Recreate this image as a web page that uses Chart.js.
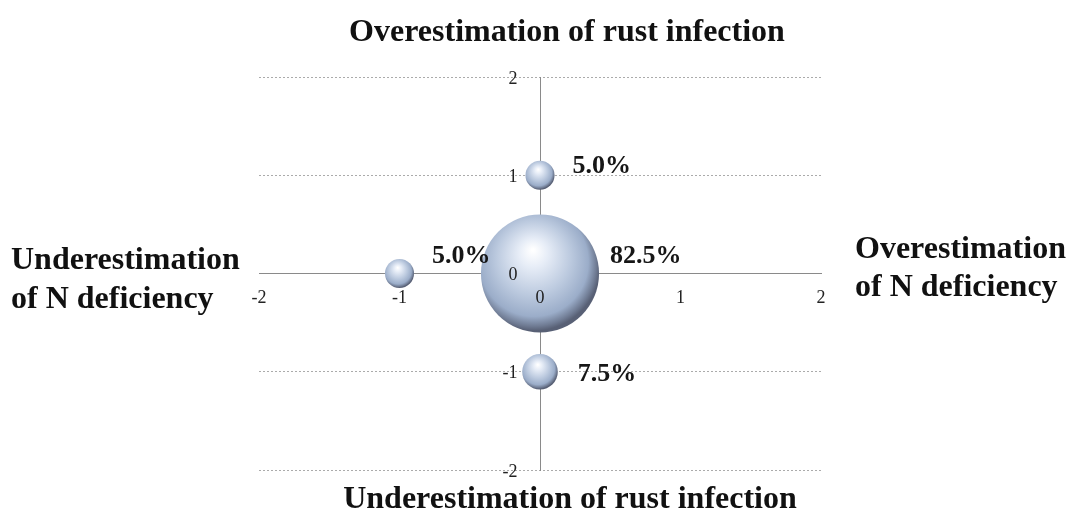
<!DOCTYPE html>
<html>
<head>
<meta charset="utf-8">
<script src="https://cdn.jsdelivr.net/npm/chart.js@4/dist/chart.umd.min.js"></script>
<style>
  html, body { margin: 0; padding: 0; background: #fff; overflow: hidden; }
  #wrap { position: relative; width: 1071px; height: 518px; overflow: hidden; }
  #chart { position: absolute; left: 0; top: 0; }
  .ttl { position: absolute; font-family: "Liberation Serif", "Times New Roman", serif; font-weight: bold;
         font-size: 32px; line-height: 36px; color: #111; white-space: nowrap; }
</style>
</head>
<body>
<div id="wrap">
  <!-- canvas is a bit taller than the window: the bubble overflow padding needs 60px at the bottom -->
  <canvas id="chart" width="1071" height="530"></canvas>
  <div class="ttl" style="left:0;width:1134px;text-align:center;top:12px;">Overestimation of rust infection</div>
  <div class="ttl" style="left:0;width:1140px;text-align:center;top:479px;">Underestimation of rust infection</div>
  <div class="ttl" style="left:11px;top:240px;">Underestimation</div>
  <div class="ttl" style="left:11px;top:279px;">of N deficiency</div>
  <div class="ttl" style="left:855px;top:229px;">Overestimation</div>
  <div class="ttl" style="left:855px;top:267px;">of N deficiency</div>
</div>
<script>
// bubble positions (x = N deficiency estimate, y = rust infection estimate)
var xValues = [0, -1, 0, 0];
var yValues = [1, 0, 0, -1];
// share of cases, in percent
var shares = [5.0, 5.0, 82.5, 7.5];
var tickValues = [-2, -1, 0, 1, 2];

var serif = '"Liberation Serif", "Times New Roman", serif';

// label nudges relative to the bubble's right edge (layout only)
var labelDx = [18, 18, 11, 20];
var labelDy = [-9, -17, -17, 3];

var points = [];
for (var i = 0; i < shares.length; i++) {
  points.push({ x: xValues[i], y: yValues[i], r: 6.5 * Math.sqrt(shares[i]), share: shares[i] });
}

function sphereFill(ctx) {
  var chart = ctx.chart;
  var raw = ctx.raw;
  if (!raw || !chart.scales || !chart.scales.x || !chart.scales.y) return '#b4c3de';
  var cx = chart.scales.x.getPixelForValue(raw.x);
  var cy = chart.scales.y.getPixelForValue(raw.y);
  var r = raw.r;
  if (!isFinite(cx) || !isFinite(cy) || !isFinite(r)) return '#b4c3de';
  var g = chart.ctx.createRadialGradient(cx - 0.12 * r, cy - 0.4 * r, 0.02 * r, cx - 0.1 * r, cy - 0.15 * r, 1.12 * r);
  g.addColorStop(0, '#ffffff');
  g.addColorStop(0.2, '#e7edf7');
  g.addColorStop(0.55, '#bccadf');
  g.addColorStop(0.82, '#9badc9');
  g.addColorStop(0.94, '#707c94');
  g.addColorStop(1, '#586075');
  return g;
}

var shareLabels = {
  id: 'shareLabels',
  afterDatasetsDraw: function(chart) {
    var c = chart.ctx;
    var meta = chart.getDatasetMeta(0);
    c.save();
    c.font = 'bold 26px ' + serif;
    c.fillStyle = '#161616';
    c.textAlign = 'left';
    c.textBaseline = 'middle';
    meta.data.forEach(function(el, i) {
      var txt = shares[i].toFixed(1) + '%';
      c.fillText(txt, el.x + el.options.radius + labelDx[i], el.y + labelDy[i]);
    });
    c.restore();
  }
};

new Chart(document.getElementById('chart'), {
  type: 'bubble',
  data: {
    datasets: [{
      data: points,
      backgroundColor: sphereFill,
      borderWidth: 0,
      hoverBorderWidth: 0
    }]
  },
  options: {
    responsive: false,
    animation: false,
    devicePixelRatio: 1,
    layout: { padding: { left: 259, right: 250, top: 77, bottom: 60 } },
    plugins: { legend: { display: false }, tooltip: { enabled: false } },
    events: [],
    scales: {
      x: {
        type: 'linear',
        min: -2, max: 2,
        position: { y: 0 },
        afterBuildTicks: function(s) { s.ticks = tickValues.map(function(v) { return { value: v }; }); },
        grid: { display: false, drawTicks: false },
        border: { display: true, color: '#8a8a8a', width: 1 },
        ticks: { autoSkip: false, padding: 14, color: '#222', font: { family: serif, size: 18 }, z: 1 }
      },
      y: {
        type: 'linear',
        min: -2, max: 2,
        position: { x: 0 },
        afterBuildTicks: function(s) { s.ticks = tickValues.map(function(v) { return { value: v }; }); },
        grid: {
          drawTicks: false,
          color: function(ctx) { return ctx.tick && ctx.tick.value === 0 ? 'rgba(0,0,0,0)' : '#ababab'; },
          lineWidth: 1
        },
        border: { display: true, color: '#8a8a8a', width: 1, dash: [2, 2] },
        ticks: {
          autoSkip: false, padding: 0, labelOffset: 2, color: '#222', font: { family: serif, size: 18 }, z: 1,
          // centred axes ignore padding, so trailing spaces keep the labels off the axis line
          callback: function(v) { return v + '     '; }
        }
      }
    }
  },
  plugins: [shareLabels]
});
</script>
</body>
</html>
